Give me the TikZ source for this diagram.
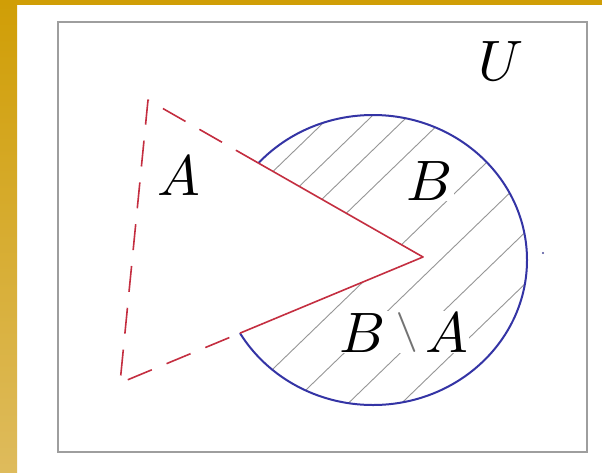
\documentclass[tikz,border=0pt]{standalone}
\usetikzlibrary{intersections}
\definecolor{goldA}{RGB}{208,158,6}
\definecolor{goldB}{RGB}{222,187,92}
\definecolor{framegray}{RGB}{158,158,158}
\definecolor{circblue}{RGB}{52,52,165}
\definecolor{trired}{RGB}{196,46,64}
\definecolor{hatchgray}{RGB}{150,150,150}
\begin{document}
\begin{tikzpicture}[x=1pt,y=-1pt,
  lbl/.style={scale=5.7, inner sep=0.2pt, anchor=base},
  hatchline/.style={draw=hatchgray, line width=0.9pt},
  solidedge/.style={draw=trired, line width=1.6pt, line join=round},
  dashedge/.style={draw=trired, line width=1.6pt, dash pattern=on 26pt off 16pt, line join=round},
  setb/.style={draw=circblue, line width=2pt},
  ]
\useasboundingbox (0,0) rectangle (602,472);
\fill[white] (0,0) rectangle (602,472);
\shade[top color=goldA, bottom color=goldB] (0,0) rectangle (17,472);
\fill[goldA] (0,0) rectangle (602,5);
\draw[framegray, line width=2.5pt] (58,22) rectangle (587,452);
\coordinate (O) at (373,260);
\coordinate (T1) at (148,100);
\coordinate (T2) at (120,383);
\coordinate (T3) at (423,257);
\path[name path=ell] (O) ellipse [x radius=154, y radius=145];
\path[name path=edgeU] (T1) -- (T3);
\path[name path=edgeL] (T2) -- (T3);
\path[name intersections={of=ell and edgeU, by=I1}];
\path[name intersections={of=ell and edgeL, by=I2}];
\begin{scope}
  \clip (O) ellipse [x radius=154, y radius=145];
  \foreach \p in {313,342,367,394,455,493,532,569} {
    \draw[hatchline] ({0.695*\p - 0.719*100}, {0.719*\p + 0.695*100}) -- ({0.695*\p + 0.719*280}, {0.719*\p - 0.695*280});
  }
\end{scope}
\draw[setb] (O) ellipse [x radius=154, y radius=145];
\fill[white] (T1) -- (T2) -- (T3) -- cycle;
\draw[solidedge] (I1) -- (T3) -- (I2);
\draw[dashedge] (I1) -- (T1) -- (T2) -- (I2);
\fill[circblue!70!gray] (543,253) circle (1.2);
\node[lbl] (labU) at (501,80) {$U$};
\node[lbl] (labA) at (179,195) {$A$};
\node[lbl, fill=white] (labB) at (430,200) {$B$};
\node[lbl, fill=white] (labBA) at (404,352) {$B\mkern3mu\raisebox{1.75pt}{\color{black!55}$\scriptstyle\setminus$}\mkern2mu A$};
\end{tikzpicture}
\end{document}
